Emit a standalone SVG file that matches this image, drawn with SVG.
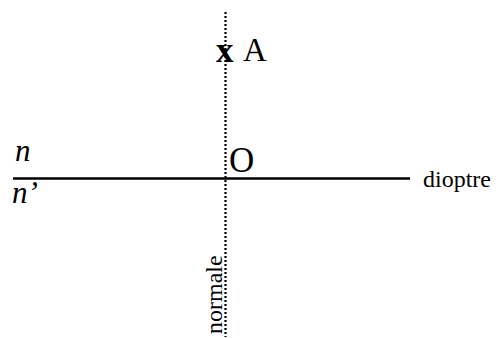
<svg xmlns="http://www.w3.org/2000/svg" width="496" height="338" viewBox="0 0 496 338">
<style>
text{font-family:"Liberation Serif","Times New Roman",serif;fill:#000}
.it{font-style:italic}
</style>
<rect width="496" height="338" fill="#fff"/>
<g id="connectors">
<line id="dioptre-line" x1="13" y1="178.5" x2="410" y2="178.5" stroke="#000" stroke-width="2.5"/>
<line id="normale-line" x1="225.5" y1="12" x2="225.5" y2="337" stroke="#000" stroke-width="2.2" stroke-dasharray="2 2"/>
</g>
<g id="pointA">
<text x="216" y="62" font-size="35" font-weight="bold">x</text>
<text x="243" y="61" font-size="33">A</text>
</g>
<g id="pointO"><text x="229" y="172" font-size="35">O</text></g>
<g id="label-dioptre"><text x="423" y="187" font-size="24">dioptre</text></g>
<g id="label-n"><text class="it" x="15" y="161" font-size="31">n</text></g>
<g id="label-n2"><text class="it" x="12" y="203" font-size="31">n’</text></g>
<g id="label-normale"><text transform="translate(222 334) rotate(-90)" font-size="24">normale</text></g>
</svg>
